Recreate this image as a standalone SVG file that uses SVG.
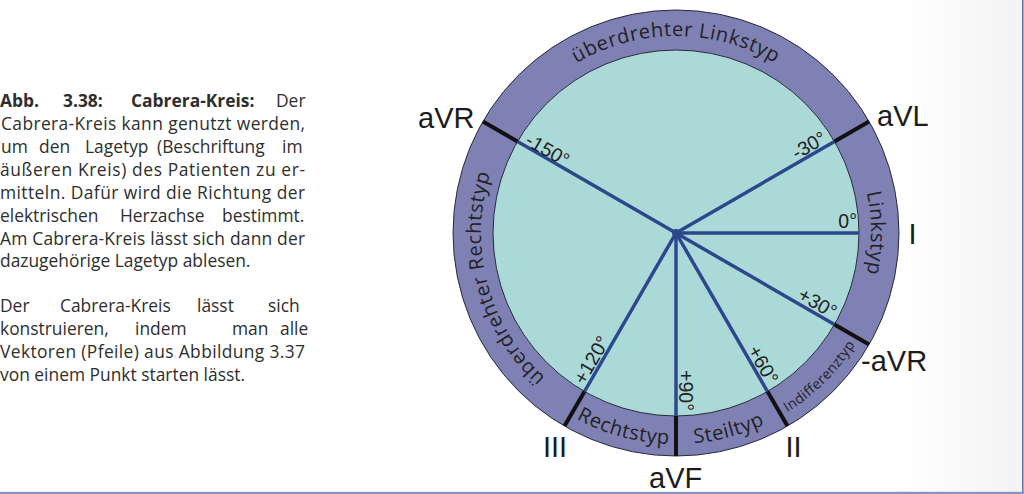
<svg xmlns="http://www.w3.org/2000/svg" width="1024" height="494" viewBox="0 0 1024 494">
<defs>
<style>
.para{font-family:"Open Sans","Liberation Sans",sans-serif;font-size:17.4px;fill:#2e2e2e}
.b{font-weight:bold}
.lead{font-family:"Liberation Sans",Arial,sans-serif;font-size:29px;fill:#1c1c1c}
.deg{font-family:"Liberation Sans",Arial,sans-serif;font-size:19.5px;fill:#222}
.ring{font-family:"Open Sans","Liberation Sans",sans-serif;font-size:20px;fill:#222;letter-spacing:0.6px}
.small{font-size:14px;letter-spacing:0.4px}
.spoke{stroke:#2e478c;stroke-width:3.5;stroke-linecap:butt}
.tick{stroke:#111;stroke-width:4}
</style>
<linearGradient id="shade" x1="0" y1="0" x2="1" y2="0">
<stop offset="0" stop-color="#ffffff"/>
<stop offset="1" stop-color="#f3f3f3"/>
</linearGradient>
<path id="pTop" d="M506.3,135 A195,195 0 0 1 845.7,135" fill="none"/>
<path id="pRight" d="M844.9,135.5 A195,195 0 0 1 844.9,330.5" fill="none"/>
<path id="pLeft" d="M578.5,401.9 A195,195 0 0 1 507.1,135.5" fill="none"/>
<path id="pRecht" d="M570.5,415.7 A211,211 0 0 0 676,444" fill="none"/>
<path id="pSteil" d="M676,444 A211,211 0 0 0 781.5,415.7" fill="none"/>
<path id="pIndiff" d="M781.5,415.7 A211,211 0 0 0 858.7,338.5" fill="none"/>
</defs>

<rect x="0" y="0" width="1024" height="494" fill="#ffffff"/>
<rect x="900" y="0" width="122" height="492" fill="url(#shade)"/>
<rect x="1022" y="0" width="1.6" height="494" fill="#6a72a2"/>
<rect x="0" y="491.8" width="1024" height="2.2" fill="#8a92b9"/>

<g id="caption" class="para">
<text y="106.7"><tspan x="0" class="b">Abb.</tspan><tspan x="63" class="b">3.38:</tspan><tspan x="131" class="b">Cabrera-Kreis:</tspan><tspan x="276">Der</tspan></text>
<text x="1" y="129.5" textLength="304" lengthAdjust="spacing">Cabrera-Kreis kann genutzt werden,</text>
<text y="152.5"><tspan x="1">um</tspan><tspan x="39">den</tspan><tspan x="85">Lagetyp</tspan><tspan x="157">(Beschriftung</tspan><tspan x="282">im</tspan></text>
<text x="0" y="175.5" textLength="305" lengthAdjust="spacing">äußeren Kreis) des Patienten zu er-</text>
<text x="0" y="198.5" textLength="305" lengthAdjust="spacing">mitteln. Dafür wird die Richtung der</text>
<text y="221.5"><tspan x="0">elektrischen</tspan><tspan x="120">Herzachse</tspan><tspan x="222">bestimmt.</tspan></text>
<text x="0" y="244.5" textLength="305" lengthAdjust="spacing">Am Cabrera-Kreis lässt sich dann der</text>
<text x="0" y="267.3">dazugehörige Lagetyp ablesen.</text>
<text y="311.7"><tspan x="0">Der</tspan><tspan x="60">Cabrera-Kreis</tspan><tspan x="197">lässt</tspan><tspan x="268">sich</tspan></text>
<text y="335"><tspan x="0">konstruieren,</tspan><tspan x="135">indem</tspan><tspan x="232">man</tspan><tspan x="280">alle</tspan></text>
<text x="0" y="358" textLength="305" lengthAdjust="spacing">Vektoren (Pfeile) aus Abbildung 3.37</text>
<text x="0" y="381">von einem Punkt starten lässt.</text>
</g>

<g id="outer-ring">
<circle cx="676" cy="233" r="223" fill="#7f81b4" stroke="#2a2a3a" stroke-width="1"/>
</g>
<g id="inner-circle">
<circle cx="676" cy="233" r="183" fill="#aad9d8" stroke="#2a2a3a" stroke-width="1"/>
</g>

<g id="connectors">
<line class="spoke" x1="676" y1="233" x2="517.5" y2="141.5"/>
<line class="spoke" x1="676" y1="233" x2="834.5" y2="141.5"/>
<line class="spoke" x1="676" y1="233" x2="859" y2="233"/>
<line class="spoke" x1="676" y1="233" x2="834.5" y2="324.5"/>
<line class="spoke" x1="676" y1="233" x2="767.5" y2="391.5"/>
<line class="spoke" x1="676" y1="233" x2="676" y2="416"/>
<line class="spoke" x1="676" y1="233" x2="584.5" y2="391.5"/>
<circle cx="676" cy="233" r="4" fill="#2e478c"/>
</g>

<g id="ticks">
<line class="tick" x1="517.5" y1="141.5" x2="482.9" y2="121.5"/>
<line class="tick" x1="834.5" y1="141.5" x2="869.1" y2="121.5"/>
<line class="tick" x1="834.5" y1="324.5" x2="869.1" y2="344.5"/>
<line class="tick" x1="767.5" y1="391.5" x2="787.5" y2="426.1"/>
<line class="tick" x1="676" y1="416" x2="676" y2="456"/>
<line class="tick" x1="584.5" y1="391.5" x2="564.5" y2="426.1"/>
</g>

<g id="ring-labels" class="ring">
<text id="t-ueberlinks"><textPath href="#pTop" startOffset="50%" text-anchor="middle">überdrehter Linkstyp</textPath></text>
<text id="t-links"><textPath href="#pRight" startOffset="50%" text-anchor="middle">Linkstyp</textPath></text>
<text id="t-ueberrechts"><textPath href="#pLeft" startOffset="50%" text-anchor="middle">überdrehter Rechtstyp</textPath></text>
<text id="t-rechts"><textPath href="#pRecht" startOffset="50%" text-anchor="middle">Rechtstyp</textPath></text>
<text id="t-steil"><textPath href="#pSteil" startOffset="50%" text-anchor="middle">Steiltyp</textPath></text>
<text id="t-indiff" class="small"><textPath href="#pIndiff" startOffset="50%" text-anchor="middle">Indifferenztyp</textPath></text>
</g>

<g id="degree-labels" class="deg">
<text transform="translate(524,144) rotate(30)">-150°</text>
<text transform="translate(828,142) rotate(-30)" text-anchor="end">-30°</text>
<text x="857" y="228" text-anchor="end">0°</text>
<text transform="translate(832,319) rotate(30)" text-anchor="end">+30°</text>
<text transform="translate(767.6,385.7) rotate(60)" text-anchor="end">+60°</text>
<text transform="translate(679,411) rotate(90)" text-anchor="end">+90°</text>
<text transform="translate(584.4,385.7) rotate(-60)">+120°</text>
</g>

<g id="lead-labels" class="lead">
<text id="l-aVR" x="418" y="128">aVR</text>
<text id="l-aVL" x="877" y="126">aVL</text>
<text id="l-I" x="908.5" y="244">I</text>
<text id="l-maVR" x="861" y="371">-aVR</text>
<text id="l-II" x="785.5" y="457">II</text>
<text id="l-aVF" x="649" y="488">aVF</text>
<text id="l-III" x="543" y="457">III</text>
</g>
</svg>
